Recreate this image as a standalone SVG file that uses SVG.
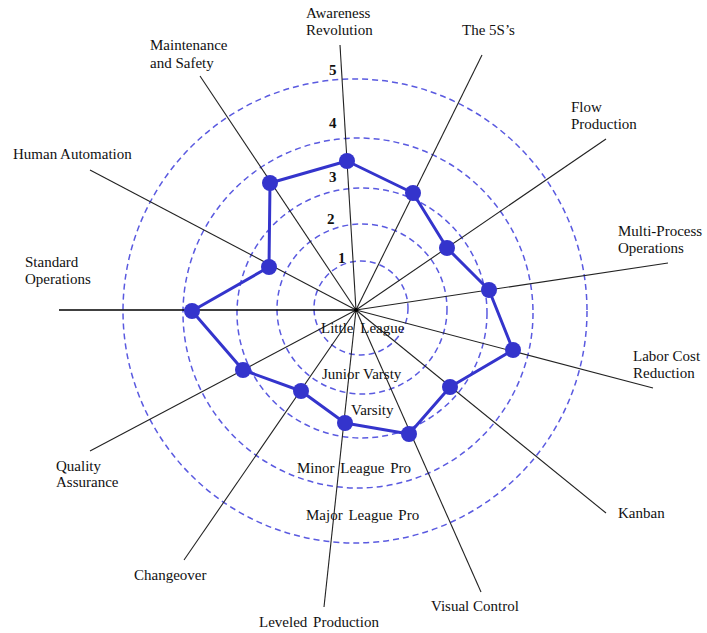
<svg xmlns="http://www.w3.org/2000/svg" width="707" height="633" viewBox="0 0 707 633">
<style>
.ring{fill:none;stroke:#5a5ae0;stroke-width:1.5;stroke-dasharray:6 4}
.spoke{stroke:#222;stroke-width:1.1;fill:none}
.poly{fill:none;stroke:#3434cc;stroke-width:3;stroke-linejoin:round}
.dot{fill:#3434cc}
.t{font-family:'Liberation Serif','DejaVu Serif',serif;font-size:15px;fill:#111}
.num{font-weight:bold}
</style>
<rect width="707" height="633" fill="#fff"/>
<g id="rings">
<circle class="ring" cx="361" cy="308" r="47"/>
<circle class="ring" cx="362" cy="309" r="85"/>
<circle class="ring" cx="362" cy="313" r="125"/>
<circle class="ring" cx="358" cy="313" r="175"/>
<circle class="ring" cx="355" cy="311" r="232"/>
</g>
<g id="connectors">
<line class="spoke" x1="356" y1="310" x2="340" y2="45"/>
<line class="spoke" x1="356" y1="310" x2="482" y2="55"/>
<line class="spoke" x1="356" y1="310" x2="606" y2="139"/>
<line class="spoke" x1="356" y1="310" x2="668" y2="263"/>
<line class="spoke" x1="356" y1="310" x2="653" y2="388"/>
<line class="spoke" x1="356" y1="310" x2="606" y2="513"/>
<line class="spoke" x1="356" y1="310" x2="481" y2="592"/>
<line class="spoke" x1="356" y1="310" x2="324" y2="607"/>
<line class="spoke" x1="356" y1="310" x2="184" y2="560"/>
<line class="spoke" x1="356" y1="310" x2="90" y2="451"/>
<line class="spoke" x1="356" y1="310" x2="59" y2="310" style="stroke-width:1.5;stroke:#000"/>
<line class="spoke" x1="356" y1="310" x2="90" y2="170"/>
<line class="spoke" x1="356" y1="310" x2="200" y2="76"/>
<circle cx="356" cy="310" r="2" fill="#000"/>
</g>
<g id="scores">
<polygon class="poly" points="347,161 413,193 447,248 489,290 513,350 450,387 409,434 345,423 301,391 243,370 192,311 269,267 270,183"/>
</g>
<g id="scale" class="t" font-family="Liberation Serif, serif">
<text class="num" x="329" y="75">5</text>
<text class="num" x="329" y="128">4</text>
<text class="num" x="329" y="182">3</text>
<text class="num" x="327" y="224">2</text>
<text class="num" x="338" y="263">1</text>
<text x="321" y="333" word-spacing="3">Little League</text>
<text x="322" y="379">Junior Varsty</text>
<text x="351" y="415">Varsity</text>
<text x="297" y="473" word-spacing="2">Minor League Pro</text>
<text x="306" y="520" word-spacing="2">Major League Pro</text>
</g>
<g id="awareness-revolution" class="t" font-family="Liberation Serif, serif"><circle class="dot" cx="347" cy="161" r="8"/><text x="306" y="18">Awareness</text><text x="306" y="35">Revolution</text></g>
<g id="the-5s" class="t" font-family="Liberation Serif, serif"><circle class="dot" cx="413" cy="193" r="8"/><text x="462" y="35">The 5S’s</text></g>
<g id="flow-production" class="t" font-family="Liberation Serif, serif"><circle class="dot" cx="447" cy="248" r="8"/><text x="571" y="112">Flow</text><text x="571" y="129">Production</text></g>
<g id="multi-process-operations" class="t" font-family="Liberation Serif, serif"><circle class="dot" cx="489" cy="290" r="8"/><text x="618" y="236">Multi-Process</text><text x="618" y="253">Operations</text></g>
<g id="labor-cost-reduction" class="t" font-family="Liberation Serif, serif"><circle class="dot" cx="513" cy="350" r="8"/><text x="633" y="361">Labor Cost</text><text x="633" y="378">Reduction</text></g>
<g id="kanban" class="t" font-family="Liberation Serif, serif"><circle class="dot" cx="450" cy="387" r="8"/><text x="618" y="518">Kanban</text></g>
<g id="visual-control" class="t" font-family="Liberation Serif, serif"><circle class="dot" cx="409" cy="434" r="8"/><text x="431" y="611">Visual Control</text></g>
<g id="leveled-production" class="t" font-family="Liberation Serif, serif"><circle class="dot" cx="345" cy="423" r="8"/><text x="259" y="627" word-spacing="2">Leveled Production</text></g>
<g id="changeover" class="t" font-family="Liberation Serif, serif"><circle class="dot" cx="301" cy="391" r="8"/><text x="134" y="580">Changeover</text></g>
<g id="quality-assurance" class="t" font-family="Liberation Serif, serif"><circle class="dot" cx="243" cy="370" r="8"/><text x="56" y="471">Quality</text><text x="56" y="487">Assurance</text></g>
<g id="standard-operations" class="t" font-family="Liberation Serif, serif"><circle class="dot" cx="192" cy="311" r="8"/><text x="25" y="267">Standard</text><text x="25" y="284">Operations</text></g>
<g id="human-automation" class="t" font-family="Liberation Serif, serif"><circle class="dot" cx="269" cy="267" r="8"/><text x="13" y="159">Human Automation</text></g>
<g id="maintenance-and-safety" class="t" font-family="Liberation Serif, serif"><circle class="dot" cx="270" cy="183" r="8"/><text x="150" y="50">Maintenance</text><text x="150" y="68">and Safety</text></g>
</svg>
